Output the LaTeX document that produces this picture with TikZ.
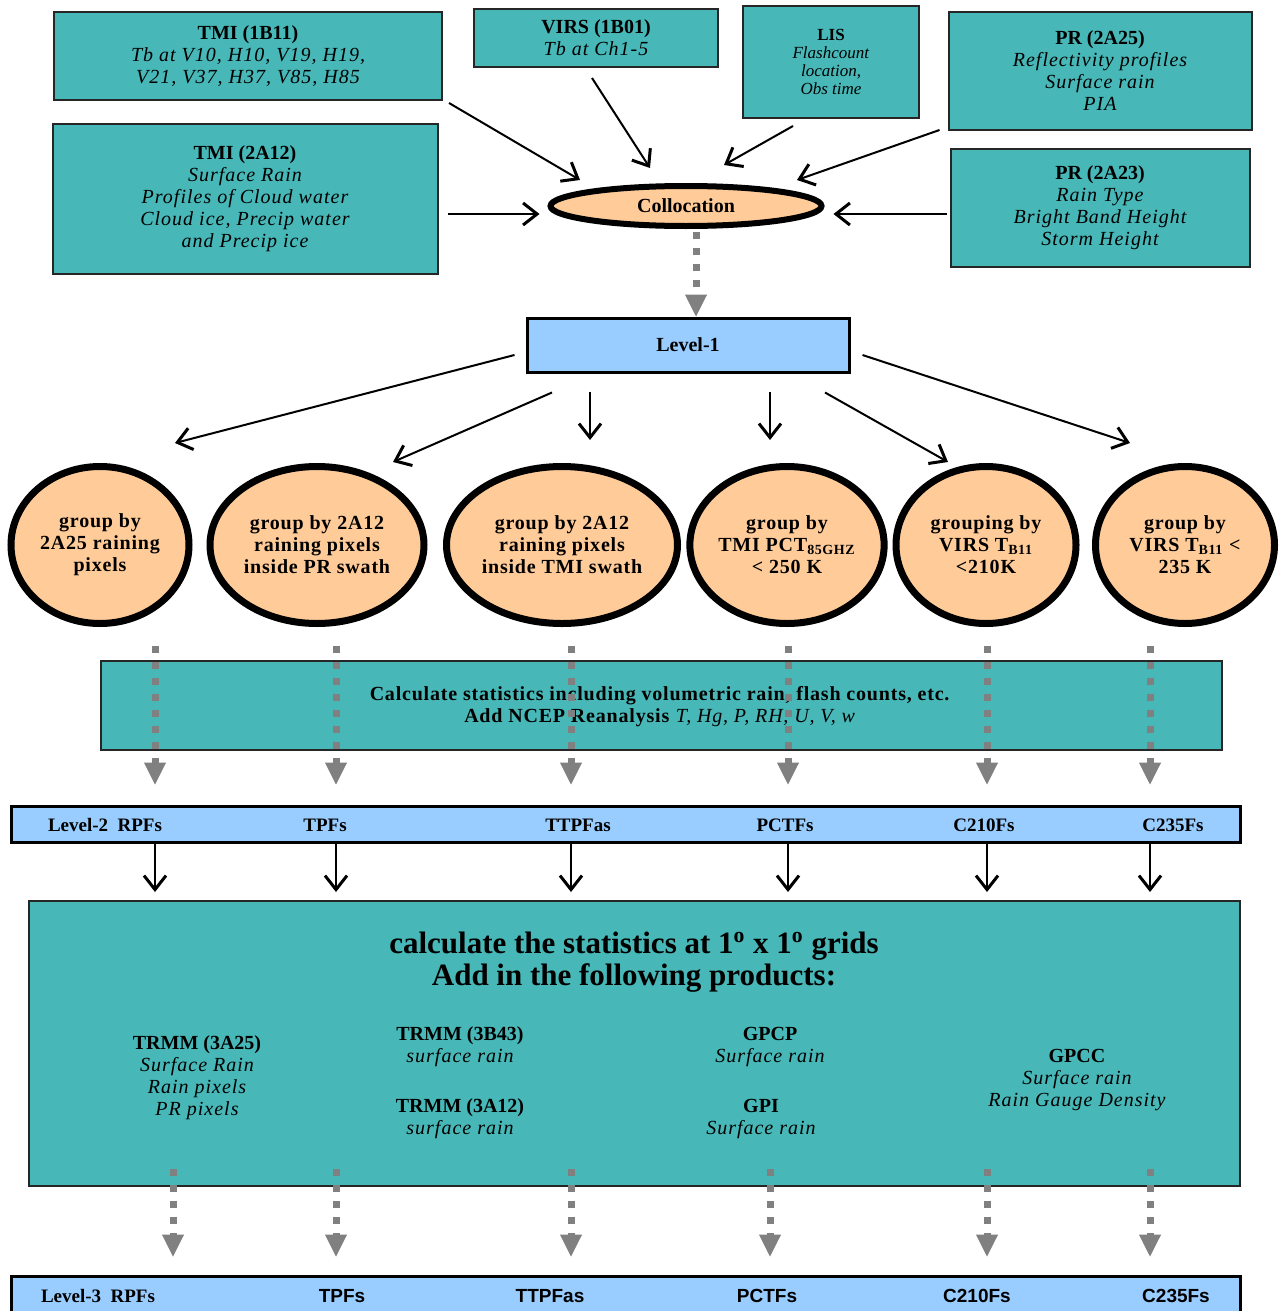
\documentclass[tikz,border=0pt]{standalone}
\usepackage{fontspec}
\setmainfont{Liberation Serif}
\newfontfamily\arialfont{Liberation Sans}
\usetikzlibrary{positioning,arrows.meta,shapes.geometric,calc}
\definecolor{tealbox}{RGB}{71,183,183}
\definecolor{peach}{RGB}{255,204,153}
\definecolor{skyblue}{RGB}{153,204,255}
\definecolor{dotgray}{RGB}{128,128,128}
\newcommand{\itl}[1]{{\itshape\addfontfeature{LetterSpace=5}#1}}
\tikzset{
  prod/.style={draw=black!85,fill=tealbox,line width=1pt,align=center,inner sep=0pt,font=\fontsize{10}{11}\selectfont},
  grp/.style={ellipse,draw=black,fill=peach,line width=3.5pt,inner sep=0pt,align=center,font=\fontsize{10}{11}\selectfont\bfseries\addfontfeature{LetterSpace=4}},
  lvlbar/.style={draw=black,fill=skyblue,line width=1.5pt,inner sep=0pt},
  lab/.style={inner sep=0pt,font=\fontsize{9.5}{11}\selectfont\bfseries},
  sanslab/.style={inner sep=0pt,font=\arialfont\fontsize{9.5}{11}\selectfont\bfseries},
  txt/.style={inner sep=0pt,align=center,font=\fontsize{10}{11}\selectfont},
  feed/.style={line width=1pt,-{Straight Barb[length=7pt,width=11pt,line width=1.5pt]}},
  flow/.style={dotgray,line width=3.5pt,dash pattern=on 3.5pt off 4.5pt,-{Triangle[length=11pt,width=11pt,line width=0.5pt]}}
}
\begin{document}
\begin{tikzpicture}[x=0.5pt,y=-0.5pt]
  \useasboundingbox (0,0) rectangle (1280,1311);
  \node[prod,minimum width=194pt,minimum height=44pt] (tmia) at (248,56) {\textbf{TMI (1B11)}\\\itl{Tb at V10, H10, V19, H19,}\\\itl{V21, V37, H37, V85, H85}};
  \node[prod,minimum width=122pt,minimum height=29pt] (virs) at (596,38) {\textbf{VIRS (1B01)}\\\itl{Tb at Ch1-5}};
  \node[prod,minimum width=88pt,minimum height=56pt,font=\fontsize{8.5}{9}\selectfont] (lis) at (831,62) {\textbf{LIS}\\\textit{Flashcount}\\\textit{location,}\\\textit{Obs time}};
  \node[prod,minimum width=151.5pt,minimum height=59pt] (pra) at (1100,71) {\textbf{PR (2A25)}\\\itl{Reflectivity profiles}\\\itl{Surface rain}\\\itl{PIA}};
  \node[prod,minimum width=192.5pt,minimum height=75pt] (tmib) at (245,199) {\textbf{TMI (2A12)}\\\itl{Surface Rain}\\\itl{Profiles of Cloud water}\\\itl{Cloud ice, Precip water}\\\itl{and Precip ice}};
  \node[prod,minimum width=149.5pt,minimum height=59pt] (prb) at (1100,208) {\textbf{PR (2A23)}\\\itl{Rain Type}\\\itl{Bright Band Height}\\\itl{Storm Height}};
  \node[ellipse,draw=black,fill=peach,line width=3pt,inner sep=0pt,minimum width=135.5pt,minimum height=20pt,font=\fontsize{10}{11}\selectfont\bfseries] (coll) at (686,206) {Collocation};
  \draw[feed] ($(tmia.south east)+(6,2)$) -- ($(coll.center)+(-106,-26)$);
  \draw[feed] ($(virs.south)+(-4,10)$) -- ($(coll.center)+(-36,-38)$);
  \draw[feed] ($(lis.south)+(-38,7)$) -- ($(coll.center)+(38,-41)$);
  \draw[feed] ($(pra.south west)+(-8,-1)$) -- ($(coll.center)+(111,-26)$);
  \draw[feed] ($(tmib.east)+(9,15)$) -- ($(coll.west)+(-8,8)$);
  \draw[feed] ($(prb.west)+(-3,6)$) -- ($(coll.east)+(9,8)$);
  \node[lvlbar,minimum width=161pt,minimum height=27pt,font=\fontsize{10}{11}\selectfont\bfseries] (lvl) at (688,345) {Level-1};
  \draw[flow,shorten <=1.5pt] ($(coll.south)+(10,0)$) -- ($(lvl.north)+(8,0)$);
  \node[grp,minimum width=89pt,minimum height=78.5pt] (g1) at (100,545) {group by\\2A25 raining\\pixels};
  \node[grp,minimum width=107pt,minimum height=78.5pt] (g2) at (317,545) {group by 2A12\\raining pixels\\inside PR swath};
  \node[grp,minimum width=115.5pt,minimum height=78.5pt] (g3) at (562,545) {group by 2A12\\raining pixels\\inside TMI swath};
  \node[grp,minimum width=89.5pt,minimum height=78.5pt] (g4) at (787,545) {group by\\TMI PCT\textsubscript{85GHZ}\\< 250 K};
  \node[grp,minimum width=90pt,minimum height=78.5pt] (g5) at (986,545) {grouping by\\VIRS T\textsubscript{B11}\\<210K};
  \node[grp,minimum width=89.5pt,minimum height=78.5pt] (g6) at (1185,545) {group by\\VIRS T\textsubscript{B11} <\\235 K};
  \draw[feed] ($(lvl.west)+(-11,10)$) -- ($(g1.center)+(75,-102)$);
  \draw[feed] ($(lvl.south)+(-136,19)$) -- ($(g2.center)+(76,-83)$);
  \draw[feed] ($(lvl.south)+(-98,18)$) -- ($(g3.center)+(28,-105)$);
  \draw[feed] ($(lvl.south)+(82,18)$) -- ($(g4.center)+(-17,-105)$);
  \draw[feed] ($(lvl.south)+(137,19)$) -- ($(g5.center)+(-38,-83)$);
  \draw[feed] ($(lvl.east)+(12,10)$) -- ($(g6.center)+(-55,-102)$);
  \node[prod,minimum width=560.5pt,minimum height=44.5pt] (calcb) at (661,705) {};
  \node[txt,font=\fontsize{10}{11}\selectfont\addfontfeature{LetterSpace=4}] (calct) at (660,707) {\textbf{Calculate statistics including volumetric rain, flash counts, etc.}\\\textbf{Add NCEP Reanalysis} \textit{T, Hg, P, RH, U, V, w}};
  \node[lvlbar,minimum width=614.5pt,minimum height=18pt] (lvl2) at (625.5,824) {};
  \node[lab] (l2a) at (105,825) {Level-2~~RPFs};
  \node[lab] (l2b) at (325,825) {TPFs};
  \node[lab] (l2c) at (578,825) {TTPFas};
  \node[lab] (l2d) at (785,825) {PCTFs};
  \node[lab] (l2e) at (984,825) {C210Fs};
  \node[lab] (l2f) at (1173,825) {C235Fs};
  \foreach \cx [count=\i] in {155,336,571,788,987,1150}
    \draw[flow,shorten <=9.5pt,shorten >=10pt] (g\i.south -| \cx,0) -- (lvl2.north -| \cx,0);
  \node[prod,minimum width=605.5pt,minimum height=142.5pt] (grid) at (634.5,1043.5) {};
  \foreach \cx in {155,336,571,788,987,1150}
    \draw[feed,shorten >=4pt] (lvl2.south -| \cx,0) -- (grid.north -| \cx,0);
  \node[txt,font=\fontsize{15.5}{16}\selectfont\bfseries] (gtitle) at (634,962) {calculate the statistics at 1\textsuperscript{o} x 1\textsuperscript{o} grids\\Add in the following products:};
  \node[txt] (p3a25) at (197,1078) {\textbf{TRMM (3A25)}\\\itl{Surface Rain}\\\itl{Rain pixels}\\\itl{PR pixels}};
  \node[txt] (p3b43) at (460,1047) {\textbf{TRMM (3B43)}\\\itl{surface rain}};
  \node[txt] (p3a12) at (460,1119) {\textbf{TRMM (3A12)}\\\itl{surface rain}};
  \node[txt] (pgpcp) at (770,1047) {\textbf{GPCP}\\\itl{Surface rain}};
  \node[txt] (pgpi) at (761,1119) {\textbf{GPI}\\\itl{Surface rain}};
  \node[txt] (pgpcc) at (1077,1080) {\textbf{GPCC}\\\itl{Surface rain}\\\itl{Rain Gauge Density}};
  \node[lvlbar,minimum width=614.5pt,minimum height=22pt] (lvl3) at (625.5,1298) {};
  \node[lab] (l3a) at (98,1296) {Level-3~~RPFs};
  \node[sanslab] (l3b) at (342,1296) {TPFs};
  \node[sanslab] (l3c) at (550,1296) {TTPFas};
  \node[sanslab] (l3d) at (767,1296) {PCTFs};
  \node[sanslab] (l3e) at (977,1296) {C210Fs};
  \node[sanslab] (l3f) at (1176,1296) {C235Fs};
  \foreach \cx in {173,336,571,770,987,1150}
    \draw[flow,shorten <=-9pt,shorten >=9pt] (grid.south -| \cx,0) -- (lvl3.north -| \cx,0);
\end{tikzpicture}
\end{document}
